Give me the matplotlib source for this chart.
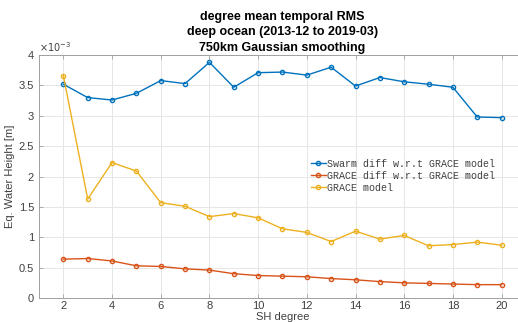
import matplotlib
matplotlib.use("Agg")
import matplotlib.pyplot as plt
from matplotlib.ticker import FuncFormatter

degrees = list(range(2, 21))
swarm_diff = [3.52, 3.30, 3.26, 3.37, 3.58, 3.53, 3.88, 3.47, 3.71, 3.72,
              3.67, 3.80, 3.49, 3.63, 3.56, 3.52, 3.47, 2.98, 2.97]
grace_diff = [0.64, 0.65, 0.61, 0.53, 0.52, 0.48, 0.46, 0.40, 0.37, 0.36,
              0.35, 0.32, 0.30, 0.27, 0.25, 0.24, 0.23, 0.22, 0.22]
grace_model = [3.66, 1.63, 2.23, 2.09, 1.57, 1.51, 1.34, 1.39, 1.32, 1.14,
               1.08, 0.93, 1.10, 0.97, 1.03, 0.86, 0.88, 0.92, 0.87]
scale = 1e-3
labels = ["Swarm diff w.r.t GRACE model", "GRACE diff w.r.t GRACE model", "GRACE model"]
colors = ["#0072BD", "#D95319", "#EDB120"]
title = "degree mean temporal RMS\ndeep ocean (2013-12 to 2019-03)\n750km Gaussian smoothing"

plt.rcParams['font.family'] = ['Liberation Sans', 'DejaVu Sans']
fig = plt.figure(figsize=(5.18, 3.22), dpi=100)
ax = fig.add_axes([0.0753, 0.0745, 0.94, 0.7545])

for series, lab, c in zip([swarm_diff, grace_diff, grace_model], labels, colors):
    ax.plot(degrees, [v * scale for v in series], '-o', color=c, lw=1.0,
            ms=3, mfc='none', mew=1.0, label=lab)

ax.set_xlim(1, 21)
ax.set_ylim(0, 4e-3)
ax.set_xticks(range(2, 21, 2))
ax.set_yticks([i * 0.5e-3 for i in range(9)])
ax.yaxis.set_major_formatter(FuncFormatter(lambda v, p: f"{v*1e3:g}"))
ax.grid(True, color='#e6e6e6', lw=0.7)
ax.set_axisbelow(True)
for s in ax.spines.values():
    s.set_color('#a0a0a0')
    s.set_linewidth(0.7)
ax.tick_params(direction='in', top=True, right=True, labelsize=8, labelcolor='#404040',
               color='#a0a0a0', length=3, width=0.6)
ax.tick_params(axis='x', pad=2.5)
ax.text(0.0, 1.005, r"$\times10^{-3}$", transform=ax.transAxes, fontsize=7,
        color='#404040', ha='left', va='bottom')
ax.set_xlabel("SH degree", fontsize=8, color='#404040')
ax.xaxis.set_label_coords(0.5, -0.056)
ax.set_ylabel("Eq. Water Height [m]", fontsize=8, color='#404040')
ax.yaxis.set_label_coords(-0.05, 0.5)
ax.set_title(title, fontsize=9, fontweight='bold', color='black', pad=3, linespacing=1.4)

leg = ax.legend(loc='upper left', bbox_to_anchor=(0.55, 0.59), frameon=False,
                prop={'family': 'Liberation Mono', 'size': 7.2},
                handlelength=1.5, handletextpad=0.15, labelspacing=0.2,
                borderaxespad=0)
for t in leg.get_texts():
    t.set_color('#404040')

fig.savefig("out.png", dpi=100)
